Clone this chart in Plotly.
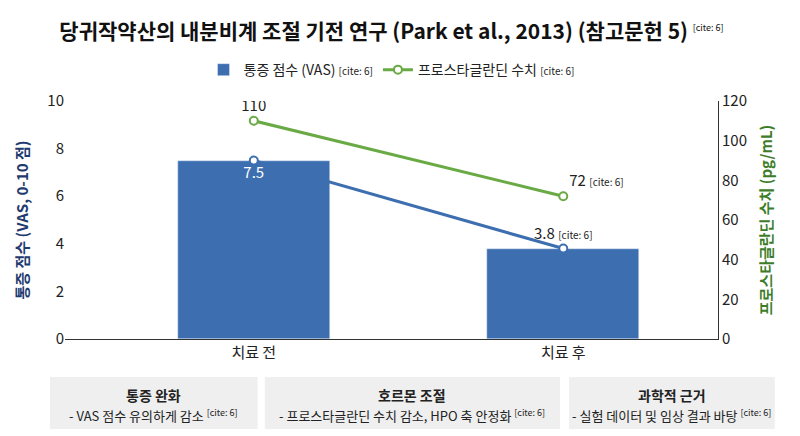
import plotly.graph_objects as go

categories = ['치료 전', '치료 후']
vas_scores = [7.5, 3.8]
pg_levels = [110, 72]
vas_labels = ['7.5', '3.8 <span style="font-size:10px">[cite: 6]</span>']
pg_labels = ['110', '72 <span style="font-size:10px">[cite: 6]</span>']

box_titles = ['통증 완화', '호르몬 조절', '과학적 근거']
box_texts = ['- VAS 점수 유의하게 감소', '- 프로스타글란딘 수치 감소, HPO 축 안정화', '- 실험 데이터 및 임상 결과 바탕']

BLUE = '#3d6fb0'
GREEN = '#6aaa45'
FONT = 'Noto Sans CJK KR'
cite = ' <sup><span style="font-size:9px">[cite: 6]</span></sup>'

fig = go.Figure()
fig.add_trace(go.Bar(x=[0, 1], y=vas_scores, width=0.49, marker_color=BLUE,
                     name='통증 점수 (VAS) <span style="font-size:10px">[cite: 6]</span>'))
fig.add_trace(go.Scatter(x=[0, 1], y=vas_scores, mode='lines+markers+text', showlegend=False,
                         line=dict(color=BLUE, width=3),
                         marker=dict(size=8, color='white', line=dict(color=BLUE, width=2)),
                         text=vas_labels, textposition=['bottom center', 'top center'],
                         textfont=dict(size=15, color=['white', '#222'])))
fig.add_trace(go.Scatter(x=[0, 1], y=pg_levels, yaxis='y2', mode='lines+markers+text',
                         name='프로스타글란딘 수치 <span style="font-size:10px">[cite: 6]</span>',
                         line=dict(color=GREEN, width=3),
                         marker=dict(size=8, color='white', line=dict(color=GREEN, width=2)),
                         text=pg_labels, textposition=['top center', 'top right'],
                         textfont=dict(size=15, color='#222')))

shapes = []
annotations = []
boxes = [(-0.023, 0.295), (0.306, 0.758), (0.772, 1.087)]
for (x0, x1), t, s in zip(boxes, box_titles, box_texts):
    shapes.append(dict(type='rect', xref='paper', yref='paper', x0=x0, x1=x1, y0=-0.378, y1=-0.16,
                       fillcolor='#efefef', line=dict(width=0), layer='below'))
    annotations.append(dict(xref='paper', yref='paper', x=(x0 + x1) / 2, y=-0.235, xanchor='center',
                            yanchor='middle', text='<b>' + t + '</b>', showarrow=False,
                            font=dict(size=14, color='#222')))
    annotations.append(dict(xref='paper', yref='paper', x=(x0 + x1) / 2, y=-0.32, xanchor='center',
                            yanchor='middle', text=s + cite, showarrow=False,
                            font=dict(size=13, color='#222')))

fig.update_layout(
    width=800, height=436, plot_bgcolor='white', paper_bgcolor='white',
    font=dict(family=FONT, color='#222'),
    margin=dict(l=57, r=90, t=93, b=105),
    title=dict(text='<b>당귀작약산의 내분비계 조절 기전 연구 (Park et al., 2013) (참고문헌 5)</b>' + cite,
               x=0.5, xref='paper', y=0.945, yanchor='middle', font=dict(size=21, color='#111')),
    legend=dict(orientation='h', x=0.5, xanchor='center', y=1.13, yanchor='middle', font=dict(size=14)),
    xaxis=dict(range=[-0.61, 1.5], tickvals=[0, 1], ticktext=categories, showline=True,
               linecolor='#333', tickfont=dict(size=15), showgrid=False),
    yaxis=dict(range=[0, 10], dtick=2, showgrid=False, tickfont=dict(size=15), showline=False,
               title=dict(text='<b>통증 점수 (VAS, 0-10 점)</b>', font=dict(size=15, color='#1f3a6e'))),
    yaxis2=dict(range=[0, 120], dtick=20, overlaying='y', side='right', showgrid=False,
                showline=True, linecolor='#333', tickfont=dict(size=15),
                title=dict(text='<b>프로스타글란딘 수치 (pg/mL)</b>', font=dict(size=15, color='#3d7d2a'))),
    shapes=shapes, annotations=annotations, bargap=0,
)

fig.write_html('out.html')
